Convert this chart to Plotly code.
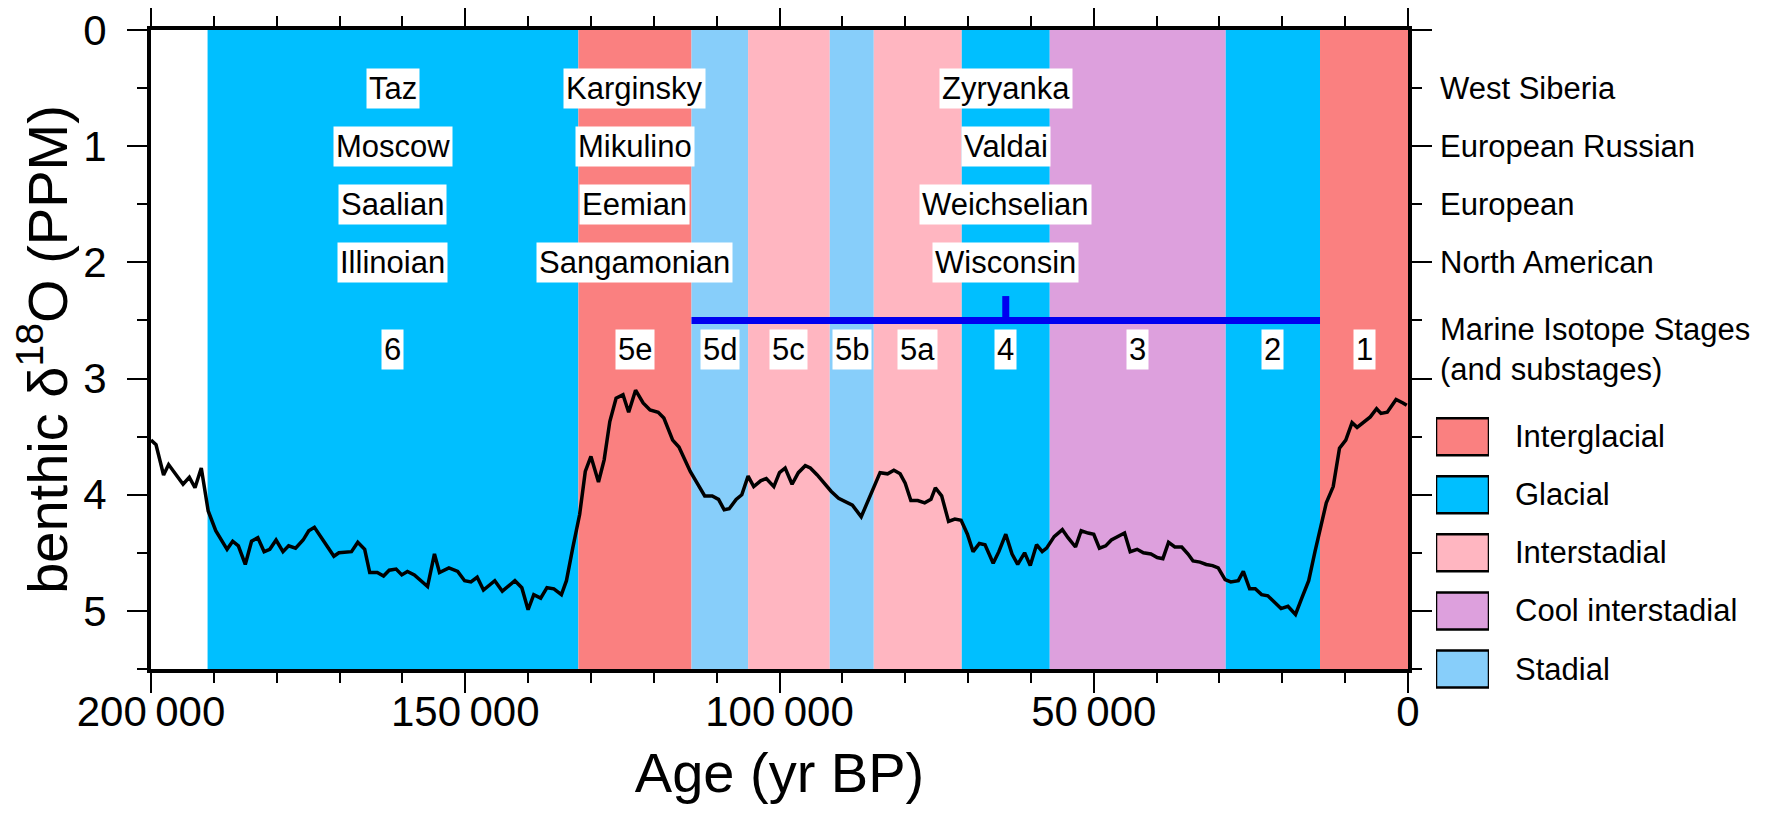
import plotly.graph_objects as go

# benthic d18O curve (age in kyr BP, value in per mil)
age_kyr = [200.0, 199.2, 198.0, 197.2, 194.9, 193.9, 193.0, 192.0, 190.9, 189.7,
           187.9, 187.0, 186.1, 185.0, 184.0, 183.0, 182.0, 181.1, 180.1, 179.0,
           178.1, 177.0, 175.8, 174.9, 174.0, 172.9, 170.9, 170.1, 168.1, 167.1,
           166.0, 165.2, 164.0, 163.0, 162.1, 161.0, 160.1, 159.2, 158.1, 156.0,
           154.9, 154.1, 152.6, 151.2, 150.1, 149.1, 148.1, 147.1, 145.3, 144.1,
           142.1, 141.0, 140.0, 139.1, 138.0, 137.0, 135.9, 134.7, 133.9, 132.9,
           131.8, 130.9, 130.0, 128.8, 127.9, 127.0, 126.0, 124.9, 124.0, 122.9,
           121.7, 120.6, 119.3, 118.4, 117.0, 116.0, 114.2, 111.9, 110.7, 109.7,
           108.8, 108.0, 106.9, 106.0, 105.0, 104.1, 103.0, 102.1, 100.9, 100.0,
           99.1, 98.0, 97.0, 95.9, 95.1, 94.0, 91.8, 90.6, 89.6, 88.4,
           87.0, 85.5, 84.0, 82.8, 81.8, 80.8, 80.0, 79.1, 78.0, 76.9,
           75.9, 75.2, 74.2, 73.1, 72.1, 71.1, 70.1, 69.2, 68.2, 67.3,
           66.0, 65.1, 64.0, 63.0, 62.1, 61.0, 60.1, 59.1, 58.2, 57.5,
           56.3, 55.0, 54.1, 52.9, 52.0, 50.9, 50.0, 49.1, 48.1, 47.2,
           46.2, 45.1, 44.2, 43.1, 42.1, 40.9, 39.9, 39.0, 38.1, 37.1,
           36.0, 35.0, 34.2, 33.1, 32.1, 31.1, 30.2, 29.1, 28.2, 27.0,
           26.2, 25.2, 24.3, 23.3, 22.3, 21.1, 20.2, 19.1, 17.9, 16.9,
           15.8, 14.8, 13.7, 13.0, 11.9, 10.9, 9.9, 8.9, 8.1, 6.8,
           6.0, 5.0, 4.3, 3.3, 1.9, 0.8, 0.2]
d18o = [3.53, 3.57, 3.83, 3.74, 3.91, 3.85, 3.94, 3.77, 4.14, 4.31,
        4.47, 4.40, 4.44, 4.60, 4.40, 4.37, 4.49, 4.47, 4.39, 4.49,
        4.44, 4.46, 4.39, 4.31, 4.28, 4.37, 4.53, 4.50, 4.49, 4.41,
        4.47, 4.67, 4.67, 4.70, 4.65, 4.64, 4.69, 4.66, 4.69, 4.79,
        4.51, 4.67, 4.63, 4.66, 4.74, 4.75, 4.71, 4.82, 4.74, 4.83,
        4.74, 4.80, 4.99, 4.86, 4.89, 4.80, 4.81, 4.86, 4.74, 4.46,
        4.17, 3.80, 3.67, 3.89, 3.70, 3.37, 3.17, 3.14, 3.29, 3.10,
        3.21, 3.27, 3.29, 3.34, 3.53, 3.59, 3.80, 4.01, 4.01, 4.04,
        4.13, 4.12, 4.04, 4.00, 3.84, 3.93, 3.88, 3.86, 3.93, 3.81,
        3.77, 3.91, 3.81, 3.75, 3.77, 3.83, 3.97, 4.03, 4.06, 4.09,
        4.19, 4.00, 3.81, 3.82, 3.79, 3.82, 3.90, 4.05, 4.05, 4.07,
        4.04, 3.94, 4.01, 4.23, 4.21, 4.22, 4.34, 4.49, 4.42, 4.43,
        4.59, 4.49, 4.34, 4.51, 4.60, 4.50, 4.61, 4.43, 4.49, 4.46,
        4.36, 4.30, 4.37, 4.45, 4.31, 4.33, 4.34, 4.46, 4.44, 4.39,
        4.36, 4.33, 4.49, 4.47, 4.50, 4.51, 4.54, 4.55, 4.41, 4.45,
        4.45, 4.51, 4.57, 4.58, 4.60, 4.61, 4.63, 4.73, 4.75, 4.74,
        4.66, 4.81, 4.81, 4.86, 4.87, 4.93, 4.98, 4.96, 5.03, 4.89,
        4.74, 4.49, 4.24, 4.07, 3.93, 3.60, 3.53, 3.38, 3.42, 3.36,
        3.33, 3.26, 3.30, 3.29, 3.18, 3.21, 3.23]

# climate periods (kyr BP boundaries, older first)
band_start = [191, 132, 114, 105, 92, 85, 71, 57, 29, 14]
band_end = [132, 114, 105, 92, 85, 71, 57, 29, 14, 0]
band_kind = ['Glacial', 'Interglacial', 'Stadial', 'Interstadial', 'Stadial',
             'Interstadial', 'Glacial', 'Cool interstadial', 'Glacial', 'Interglacial']
stage_labels = ['6', '5e', '5d', '5c', '5b', '5a', '4', '3', '2', '1']

kind_colors = {'Interglacial': '#FA8080', 'Glacial': '#00BFFF', 'Interstadial': '#FFB6C1',
               'Cool interstadial': '#DDA0DD', 'Stadial': '#87CEFA'}
legend_kinds = ['Interglacial', 'Glacial', 'Interstadial', 'Cool interstadial', 'Stadial']
legend_rows = [3.5, 4.0, 4.5, 5.0, 5.5]

# regional names, one column per stage (6, 5e, 4)
region_stage = ['6', '5e', '4']
region_names = [['Taz', 'Moscow', 'Saalian', 'Illinoian'],
                ['Karginsky', 'Mikulino', 'Eemian', 'Sangamonian'],
                ['Zyryanka', 'Valdai', 'Weichselian', 'Wisconsin']]
region_rows = [0.5, 1.0, 1.5, 2.0]
region_titles = ['West Siberia', 'European Russian', 'European', 'North American']
stage_row = 2.75

# last glacial bar
glacial_bar = [114, 14]
glacial_bar_level = 2.5
glacial_mark = 64
glacial_mark_top = 2.29

x_tick_vals = [200000, 150000, 100000, 50000, 0]
x_tick_text = ['200\u2009000', '150\u2009000', '100\u2009000', '50\u2009000', '0']
y_tick_vals = [0, 1, 2, 3, 4, 5]

FONT = 'Liberation Sans, Arial, sans-serif'
W, H = 1768, 824
ML, MR, MT, MB = 143, 10, 22, 100
PW, PH = W - ML - MR, H - MT - MB
plot_right = 1400
unit_px = (661 - MT) / 5.5


def px_x(p):
	return (p - ML) / PW


fig = go.Figure()

# background bands
for s, e, k in zip(band_start, band_end, band_kind):
	fig.add_vrect(x0=s * 1000, x1=e * 1000, fillcolor=kind_colors[k], opacity=1,
		line_width=0, layer='below')

fig.add_trace(go.Scatter(x=[a * 1000 for a in age_kyr], y=d18o, mode='lines',
	line=dict(color='black', width=3.5), showlegend=False, hoverinfo='x+y'))

fig.add_trace(go.Scatter(x=[v * 1000 for v in glacial_bar], y=[glacial_bar_level] * 2,
	mode='lines', line=dict(color='#0000F0', width=7), showlegend=False))
fig.add_trace(go.Scatter(x=[glacial_mark * 1000] * 2, y=[glacial_bar_level, glacial_mark_top],
	mode='lines', line=dict(color='#0000F0', width=7), showlegend=False))

# legend swatches on a small side subplot
box_h = 37 / unit_px
fig.add_trace(go.Bar(x=[0.5] * len(legend_kinds), y=[box_h] * len(legend_kinds),
	base=[r - box_h / 2 for r in legend_rows], width=1,
	marker=dict(color=[kind_colors[k] for k in legend_kinds], line=dict(color='black', width=2.5)),
	xaxis='x2', yaxis='y2', showlegend=False, hoverinfo='skip'))

ann = []
label_font = dict(family=FONT, size=31, color='black')
for stage, names in zip(region_stage, region_names):
	i = stage_labels.index(stage)
	xc = (band_start[i] + band_end[i]) / 2 * 1000
	for n, r in zip(names, region_rows):
		ann.append(dict(x=xc, y=r, xref='x', yref='y', text=n, showarrow=False,
			bgcolor='white', borderpad=2, font=label_font))
for s, e, lab in zip(band_start, band_end, stage_labels):
	ann.append(dict(x=(s + e) / 2 * 1000, y=stage_row, xref='x', yref='y', text=lab,
		showarrow=False, bgcolor='white', borderpad=2, font=label_font))
for t, r in zip(region_titles, region_rows):
	ann.append(dict(x=px_x(1430), y=r, xref='paper', yref='y', text=t, showarrow=False,
		xanchor='left', font=label_font))
ann.append(dict(x=px_x(1430), y=stage_row, xref='paper', yref='y',
	text='Marine Isotope Stages<br>(and substages)', showarrow=False, xanchor='left',
	align='left', font=label_font))
for k, r in zip(legend_kinds, legend_rows):
	ann.append(dict(x=px_x(1505), y=r, xref='paper', yref='y', text=k, showarrow=False,
		xanchor='left', font=label_font))

main_bottom = (H - MB - 661) / PH
fig.update_layout(
	width=W, height=H,
	margin=dict(l=ML, r=MR, t=MT, b=MB, autoexpand=False),
	plot_bgcolor='white', paper_bgcolor='white',
	font=dict(family=FONT, color='black'),
	showlegend=False,
	annotations=ann,
	xaxis=dict(domain=[0, px_x(plot_right)], range=[200000, 0], tickmode='array',
		tickvals=x_tick_vals, ticktext=x_tick_text, ticks='outside', ticklen=20, tickwidth=2,
		tickcolor='black', showline=True, linewidth=4, linecolor='black', mirror='ticks',
		showgrid=False, zeroline=False, tickfont=dict(size=42), ticklabelstandoff=-17,
		ticklabeloverflow='allow',
		minor=dict(tickmode='linear', tick0=0, dtick=10000, ticks='outside', ticklen=10,
			tickwidth=2, tickcolor='black', showgrid=False),
		title=dict(text='Age (yr BP)', font=dict(size=56), standoff=19)),
	yaxis=dict(domain=[main_bottom, 1], range=[5.5, 0], tickmode='array',
		tickvals=y_tick_vals, ticks='outside', ticklen=20, tickwidth=2, tickcolor='black',
		showline=True, linewidth=4, linecolor='black', mirror='ticks', showgrid=False,
		zeroline=False, tickfont=dict(size=42), ticklabelstandoff=12,
		ticklabeloverflow='allow',
		minor=dict(tickmode='linear', tick0=0, dtick=0.5, ticks='outside', ticklen=10,
			tickwidth=2, tickcolor='black', showgrid=False),
		title=dict(text='benthic \u03b4<sup>18</sup>O (PPM)', font=dict(size=56), standoff=18)),
	xaxis2=dict(domain=[px_x(1428), px_x(1481)], range=[0, 1], anchor='y2', visible=False),
	yaxis2=dict(domain=[0, 1], range=[5.5 + (H - MB - 661) / unit_px, 0], anchor='x2',
		visible=False),
)

fig.write_html('out.html')
